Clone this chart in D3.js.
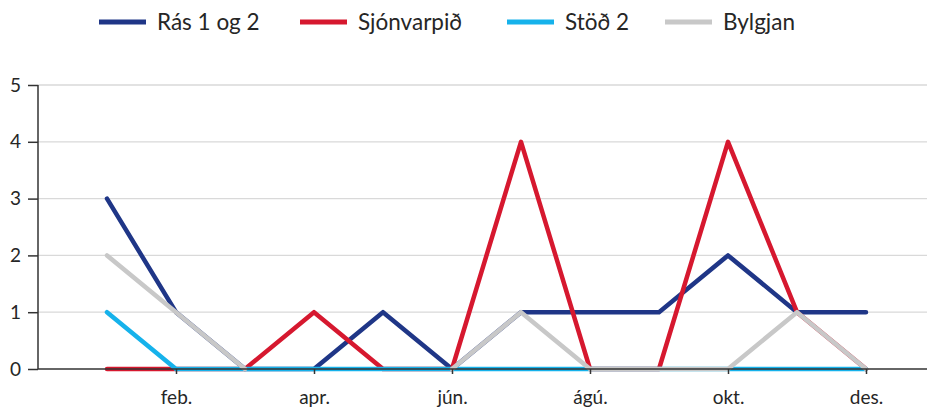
<!DOCTYPE html>
<html>
<head>
<meta charset="utf-8">
<script src="https://cdn.jsdelivr.net/npm/d3@7"></script>
<style>
  html, body { margin: 0; padding: 0; background: #fff; }
  svg { display: block; }
  text { font-family: Lato, "Open Sans", sans-serif; fill: #262626; }
</style>
</head>
<body>
<svg id="chart" width="927" height="415"></svg>
<script>
const months = ["jan.", "feb.", "mar.", "apr.", "maí", "jún.", "júl.", "ágú.", "sep.", "okt.", "nóv.", "des."];
const tickLabels = ["feb.", "apr.", "jún.", "ágú.", "okt.", "des."];
const yTicks = [0, 1, 2, 3, 4, 5];
const seriesNames = ["Rás 1 og 2", "Sjónvarpið", "Stöð 2", "Bylgjan"];
const seriesColors = ["#1f3687", "#d6182f", "#16b2eb", "#c8c8c8"];
const ras = [3, 1, 0, 0, 1, 0, 1, 1, 1, 2, 1, 1];
const sjonvarpid = [0, 0, 0, 1, 0, 0, 4, 0, 0, 4, 1, 0];
const stod2 = [1, 0, 0, 0, 0, 0, 0, 0, 0, 0, 0, 0];
const bylgjan = [2, 1, 0, null, null, 0, 1, 0, 0, 0, 1, 0];
const seriesValues = [ras, sjonvarpid, stod2, bylgjan];

(function () {
const svg = d3.select("#chart");
const W = 927;
const mLeft = 38, mTop = 85, mBottom = 369;

const x = d3.scaleLinear().domain([-1, 11]).range([mLeft, 866]);
const y = d3.scaleLinear().domain([0, 5]).range([mBottom, mTop]);

// gridlines
svg.append("g").selectAll("line").data(yTicks.filter(d => d > 0)).join("line")
  .attr("x1", mLeft).attr("x2", W)
  .attr("y1", d => y(d)).attr("y2", d => y(d))
  .attr("stroke", "#d9d9d9").attr("stroke-width", 1.3);

// series
const line = d3.line()
  .defined(d => d != null)
  .x((d, i) => x(i))
  .y(d => y(d));

const g = svg.append("g");
seriesValues.forEach((vals, k) => {
  g.append("path")
    .datum(vals)
    .attr("d", line)
    .attr("fill", "none")
    .attr("stroke", seriesColors[k])
    .attr("stroke-width", 4.5)
    .attr("stroke-linejoin", "round")
    .attr("stroke-linecap", "round");
});

// y axis
const yAxis = d3.axisLeft(y).tickValues(yTicks).tickSize(10).tickPadding(7).tickFormat(d3.format("d"));
const ya = svg.append("g").attr("transform", `translate(${mLeft},0)`).call(yAxis);
ya.select(".domain").attr("stroke", "#333").attr("stroke-width", 1.5).attr("d", `M0,${mTop}V${mBottom}`);
ya.selectAll(".tick line").attr("stroke", "#333").attr("stroke-width", 1.5);
ya.selectAll(".tick text").style("font-family", "Lato, sans-serif").style("font-size", "19px").attr("fill", "#262626");

// x axis
const tickIdx = tickLabels.map(l => months.indexOf(l));
const xAxis = d3.axisBottom(x).tickValues(tickIdx).tickSize(5).tickPadding(17)
  .tickFormat(i => months[i]);
const xa = svg.append("g").attr("transform", `translate(0,${mBottom})`).call(xAxis);
xa.select(".domain").attr("stroke", "#333").attr("stroke-width", 1.5).attr("d", `M${mLeft},0H${W}`);
xa.selectAll(".tick line").attr("stroke", "#333").attr("stroke-width", 1.5);
xa.selectAll(".tick text").style("font-family", "Lato, sans-serif").style("font-size", "19px").attr("fill", "#262626");

// legend
const legendLineX = [99, 300, 507, 665];
const legend = svg.append("g");
seriesNames.forEach((name, k) => {
  legend.append("line")
    .attr("x1", legendLineX[k]).attr("x2", legendLineX[k] + 47)
    .attr("y1", 22).attr("y2", 22)
    .attr("stroke", seriesColors[k]).attr("stroke-width", 5);
  legend.append("text")
    .attr("x", legendLineX[k] + 58).attr("y", 22)
    .attr("dy", "0.35em")
    .style("font-size", "22.5px")
    .text(name);
});
})();
</script>
</body>
</html>
